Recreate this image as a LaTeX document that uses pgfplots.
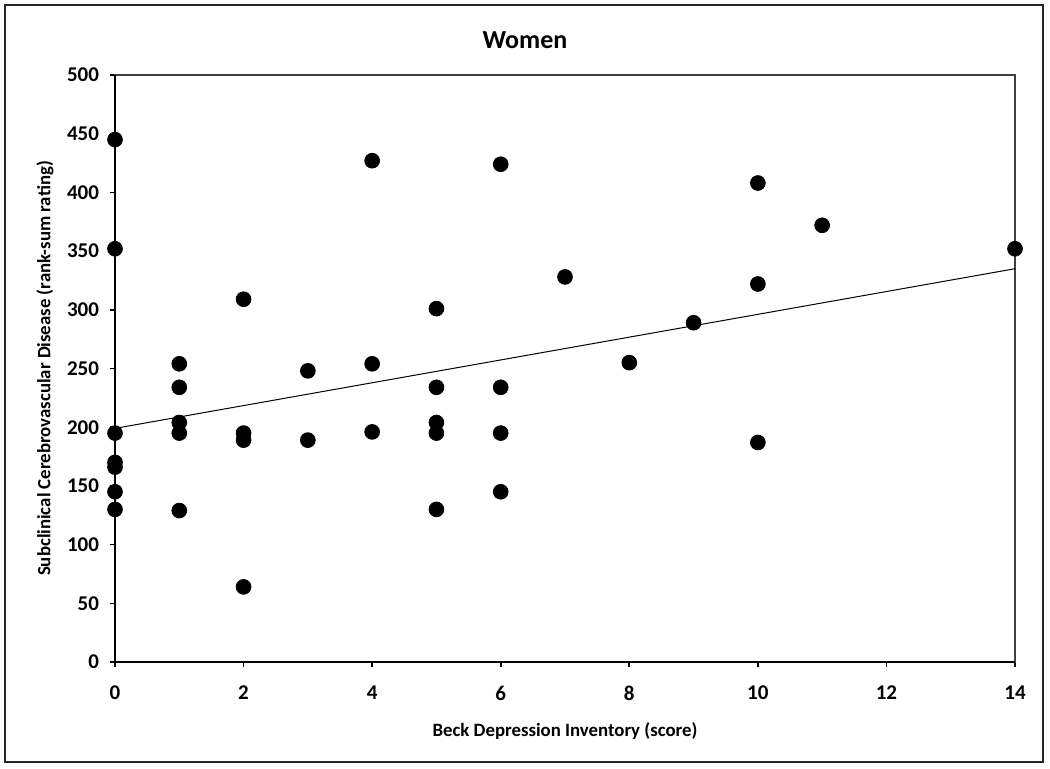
\documentclass[border=0pt]{standalone}
\usepackage{pgfplots}
\pgfplotsset{compat=1.18}
\usepackage{fontspec}
\setmainfont{Carlito}
\begin{document}
\begin{tikzpicture}
\useasboundingbox (-57.5pt,-53pt) rectangle (467.5pt,331pt);
\draw[line width=0.9pt, black!85] (-55pt,-50pt) rectangle (464pt,328.5pt);
\begin{axis}[
  at={(0,0)}, anchor=south west,
  scale only axis, width=450pt, height=293.5pt,
  xmin=0, xmax=14, ymin=0, ymax=500,
  xtick={0,2,...,14}, ytick={0,50,...,500},
  xtick pos=left, ytick pos=left,
  tick align=outside, major tick length=2.5pt,
  tick style={black, line width=0.8pt},
  axis line style={draw=black!75, line width=0.8pt},
  /pgf/number format/assume math mode=true,
  ticklabel style={font=\fontsize{10.5pt}{12pt}\selectfont\bfseries},
  yticklabel style={xshift=-2pt},
  xticklabel style={yshift=-6pt},
  xlabel={Beck Depression Inventory (score)},
  ylabel={Subclinical Cerebrovascular Disease (rank-sum rating)},
  label style={font=\fontsize{9.4pt}{11pt}\selectfont\bfseries},
  x label style={at={(axis description cs:0.5,0)}, anchor=center, yshift=-34.5pt},
  y label style={at={(axis description cs:0,0.5)}, anchor=center, rotate=0, yshift=35pt},
  clip=false,
]
\addplot[only marks, mark=*, mark size=3.7pt, black] coordinates {
(0,445) (0,352) (0,195) (0,170) (0,166) (0,145) (0,130)
(1,254) (1,234) (1,204) (1,195) (1,129)
(2,309) (2,195) (2,189) (2,64)
(3,248) (3,189)
(4,427) (4,254) (4,196)
(5,301) (5,234) (5,204) (5,195) (5,130)
(6,424) (6,234) (6,195) (6,145)
(7,328)
(8,255)
(9,289)
(10,408) (10,322) (10,187)
(11,372)
(14,352)
};
\addplot[black, line width=0.5pt] coordinates {(0,199) (14,335)};
\draw[black, line width=1pt] (axis cs:0,500) -- (axis cs:0,0) -- (axis cs:14,0);
\end{axis}
\node[font=\fontsize{13pt}{15pt}\selectfont\bfseries] at (205pt,311pt) {Women};
\end{tikzpicture}
\end{document}
